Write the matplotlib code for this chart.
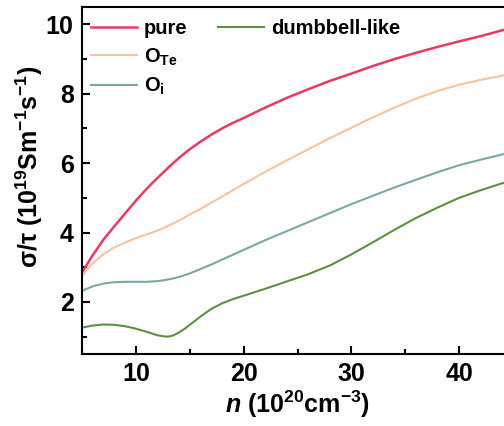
import matplotlib
matplotlib.use("Agg")
import matplotlib.pyplot as plt
from matplotlib.ticker import MultipleLocator

plt.rcParams['font.family'] = ['Liberation Sans', 'DejaVu Sans']
plt.rcParams['font.weight'] = 'bold'
plt.rcParams['axes.labelweight'] = 'bold'
plt.rcParams['mathtext.fontset'] = 'custom'
plt.rcParams['mathtext.rm'] = 'Liberation Sans:bold'
plt.rcParams['mathtext.bf'] = 'Liberation Sans:bold'
plt.rcParams['mathtext.it'] = 'Liberation Sans:bold:italic'
plt.rcParams['mathtext.default'] = 'bf'

# carrier concentration (1e20 cm^-3)
n = [5, 6, 7, 8, 9, 10, 11, 11.5, 12, 12.5, 13, 13.5, 14, 14.5, 15, 16, 17, 18, 19, 20,
     22, 24, 26, 28, 30, 32, 34, 36, 38, 40, 42, 44, 46]

# sigma/tau (1e19 S m^-1 s^-1)
pure = [2.85, 3.35, 3.80, 4.18, 4.55, 4.92, 5.26, 5.42, 5.57, 5.72, 5.87, 6.01, 6.15, 6.28, 6.40, 6.62,
        6.82, 7.00, 7.16, 7.30, 7.60, 7.88, 8.13, 8.37, 8.58, 8.80, 9.00, 9.18, 9.35, 9.51, 9.66, 9.83, 9.98]
o_te = [2.75, 3.12, 3.38, 3.57, 3.71, 3.84, 3.95, 4.00, 4.06, 4.12, 4.19, 4.27, 4.35, 4.43, 4.52, 4.68,
        4.86, 5.04, 5.22, 5.40, 5.75, 6.08, 6.40, 6.72, 7.02, 7.32, 7.60, 7.86, 8.08, 8.26, 8.40, 8.52, 8.60]
o_i = [2.32, 2.45, 2.53, 2.57, 2.58, 2.58, 2.58, 2.59, 2.60, 2.62, 2.65, 2.68, 2.72, 2.77, 2.82, 2.95,
       3.08, 3.22, 3.36, 3.50, 3.78, 4.04, 4.30, 4.56, 4.82, 5.06, 5.30, 5.52, 5.74, 5.94, 6.10, 6.25, 6.38]
dumbbell = [1.26, 1.32, 1.35, 1.34, 1.30, 1.23, 1.14, 1.09, 1.04, 1.01, 1.00, 1.04, 1.12, 1.22, 1.34, 1.58,
            1.80, 1.96, 2.08, 2.18, 2.38, 2.59, 2.80, 3.05, 3.37, 3.72, 4.08, 4.42, 4.72, 5.00, 5.22, 5.42, 5.58]

fig = plt.figure(figsize=(5.04, 4.26), dpi=100)
ax = fig.add_axes([82/504, 1 - 354/426, 431/504, 347/426])

l1, = ax.plot(n, pure, color='#e83a62', lw=1.8, label='pure')
l2, = ax.plot(n, o_te, color='#f5c49e', lw=1.5, label=r'O$_{\mathrm{Te}}$')
l3, = ax.plot(n, o_i, color='#7ba9a0', lw=1.5, label=r'O$_{\mathrm{i}}$')
l4, = ax.plot(n, dumbbell, color='#5e9040', lw=1.5, label='dumbbell-like')

ax.set_xlim(5, 45)
ax.set_ylim(0.5, 10.5)
ax.xaxis.set_major_locator(MultipleLocator(10))
ax.xaxis.set_minor_locator(MultipleLocator(5))
ax.yaxis.set_major_locator(MultipleLocator(2))
ax.yaxis.set_minor_locator(MultipleLocator(1))
ax.tick_params(which='both', direction='in', width=1.5, labelsize=18)
ax.tick_params(which='major', length=5.8, pad=6)
ax.tick_params(which='minor', length=3.6)
for s in ax.spines.values():
    s.set_linewidth(1.5)

ax.set_xlabel(r'$\mathit{n}$ (10$^{20}$cm$^{-3}$)', fontsize=18)
ax.set_ylabel(r'σ/τ (10$^{19}$Sm$^{-1}$s$^{-1}$)', fontsize=18)
ax.xaxis.set_label_coords(0.5, -0.1)
ax.yaxis.set_label_coords(-0.085, 0.54)

leg1 = ax.legend(handles=[l1, l2, l3], loc='upper left', bbox_to_anchor=(0.02, 0.965),
                 frameon=False, fontsize=14.5, handlelength=2.3, handletextpad=0.35,
                 borderpad=0, borderaxespad=0, labelspacing=0.4)
ax.add_artist(leg1)
ax.legend(handles=[l4], loc='upper left', bbox_to_anchor=(0.315, 0.965),
          frameon=False, fontsize=14.5, handlelength=2.3, handletextpad=0.35,
          borderpad=0, borderaxespad=0)

fig.savefig('out.png', dpi=100)
